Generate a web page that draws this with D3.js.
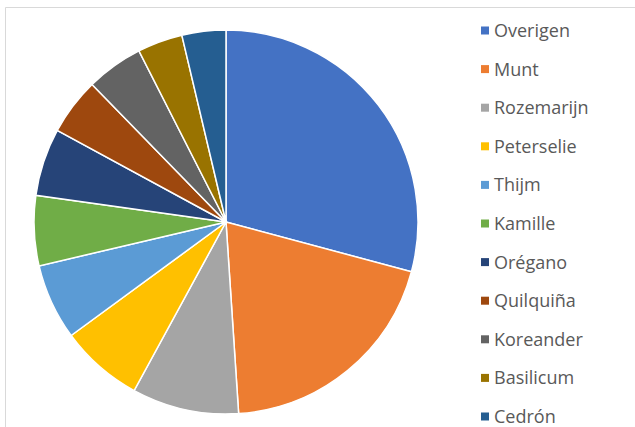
<!DOCTYPE html>
<html>
<head>
<meta charset="utf-8">
<script src="https://cdn.jsdelivr.net/npm/d3@7"></script>
<style>
  body { margin: 0; background: #fff; }
  #chart { width: 635px; height: 427px; }
</style>
</head>
<body>
<div id="chart"></div>
<script>
// herbs and their share (percent)
const herbs = ["Overigen", "Munt", "Rozemarijn", "Peterselie", "Thijm", "Kamille",
  "Orégano", "Quilquiña", "Koreander", "Basilicum", "Cedrón"];
const shares = [29.2, 19.8, 9.0, 7.0, 6.4, 5.9, 5.7, 4.8, 4.8, 3.8, 3.7];
const colors = ["#4472C4", "#ED7D31", "#A5A5A5", "#FFC000", "#5B9BD5", "#70AD47",
  "#264478", "#9E480E", "#636363", "#997300", "#255E91"];

const width = 635, height = 427;
const svg = d3.select("#chart").append("svg")
  .attr("width", width)
  .attr("height", height);

// chart area frame (top and left edges visible)
svg.append("path")
  .attr("d", `M5.5,${height} V7.5 H${width}`)
  .style("fill", "none")
  .style("stroke", "#D9D9D9")
  .style("stroke-width", 1);

const rows = herbs.map((h, i) => ({ name: h, value: shares[i], color: colors[i] }));

const pie = d3.pie().sort(null).value((d) => d.value);
const arc = d3.arc().innerRadius(0).outerRadius(192);

const g = svg.append("g").attr("transform", "translate(226,222)");

g.selectAll("path.slice")
  .data(pie(rows))
  .enter()
  .append("path")
  .attr("class", "slice")
  .attr("d", arc)
  .style("fill", (d) => d.data.color)
  .style("stroke", "#fff")
  .style("stroke-width", 1.5);

// legend
const legendY = d3.scalePoint().domain(herbs).range([30.5, 416.5]);
const legend = svg.append("g").attr("class", "legend");
const item = legend.selectAll("g").data(rows).enter().append("g")
  .attr("transform", (d) => `translate(0,${legendY(d.name)})`);

item.append("rect")
  .attr("x", 481)
  .attr("y", -4)
  .attr("width", 8)
  .attr("height", 8)
  .style("fill", (d) => d.color);

item.append("text")
  .attr("x", 494)
  .attr("dy", "0.36em")
  .style("font-family", "'Open Sans', sans-serif")
  .style("font-size", "18px")
  .style("fill", "#595959")
  .text((d) => d.name);
</script>
</body>
</html>
